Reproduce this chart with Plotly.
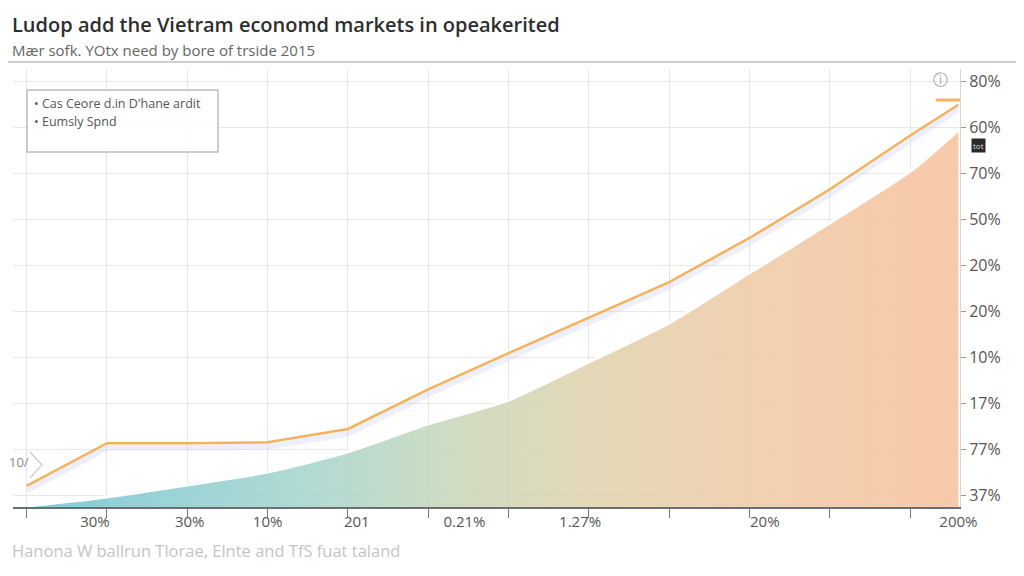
import plotly.graph_objects as go

# values
x_pos = [0, 1, 2, 3, 4, 5, 6, 7, 8, 9, 10, 11, 11.6]
line_vals = [0.2, 1.13, 1.13, 1.15, 1.44, 2.3, 3.09, 3.86, 4.64, 5.6, 6.66, 7.83, 8.5]
area_vals = [-0.24, -0.04, 0.22, 0.5, 0.94, 1.55, 2.07, 2.9, 3.75, 4.84, 5.93, 7.05, 7.95]

x_label_pos = [0.85, 2.03, 3.0, 4.11, 5.45, 6.89, 9.19, 11.6]
x_labels = ["30%", "30%", "10%", "201", "0.21%", "1.27%", "20%", "200%"]
y_tick_pos = [0, 1, 2, 3, 4, 5, 6, 7, 8, 9]
y_labels = ["37%", "77%", "17%", "10%", "20%", "20%", "50%", "70%", "60%", "80%"]

legend_names = ["Cas Ceore d.in D'hane ardit", "Eumsly Spnd"]

y_min = -0.26
y_max = 9.28
font = "Open Sans, Liberation Sans, sans-serif"

fig = go.Figure()

# baseline for the area
fig.add_trace(go.Scatter(x=x_pos, y=[y_min] * len(x_pos), mode="lines",
                         line=dict(width=0), showlegend=False, hoverinfo="skip"))
fig.add_trace(go.Scatter(
    x=x_pos, y=area_vals, mode="lines", fill="tonexty",
    line=dict(color="white", width=3, shape="spline", smoothing=0.6),
    fillgradient=dict(type="horizontal", colorscale=[
        [0.0, "rgba(118,200,214,0.92)"],
        [0.3, "rgba(168,214,207,0.9)"],
        [0.45, "rgba(200,216,188,0.9)"],
        [0.6, "rgba(224,212,176,0.9)"],
        [0.8, "rgba(240,204,170,0.92)"],
        [1.0, "rgba(247,198,164,0.95)"],
    ]),
    name=legend_names[1], showlegend=False))

# soft shadow under the orange line
fig.add_trace(go.Scatter(x=x_pos, y=[v - 0.1 for v in line_vals], mode="lines",
                         line=dict(color="rgba(205,208,240,0.35)", width=6),
                         showlegend=False, hoverinfo="skip"))
fig.add_trace(go.Scatter(x=x_pos, y=line_vals, mode="lines",
                         line=dict(color="#f2b35c", width=2.5),
                         name=legend_names[0], showlegend=False))

fig.update_xaxes(
    range=[-0.17, 11.62], tickvals=x_label_pos, ticktext=x_labels,
    ticks="", showgrid=False, zeroline=False,
    showline=True, linecolor="#6b6f72", linewidth=2,
    tickfont=dict(size=15, color="#555", family=font),
    minor=dict(tick0=0, dtick=1, ticks="outside", ticklen=9, tickcolor="#777",
               showgrid=True, gridcolor="#e6e6e6", gridwidth=1),
)
fig.update_yaxes(
    range=[y_min, y_max], side="right", tickvals=y_tick_pos, ticktext=y_labels,
    ticks="outside", ticklen=5, tickcolor="#999",
    showgrid=True, gridcolor="#e8e8e8", zeroline=False,
    showline=True, linecolor="#d8d8d8",
    tickfont=dict(size=16, color="#555", family=font),
)

def px_x(px):
    return (px - 13) / 947

def px_y(py):
    return (507 - py) / 438

annotations = [
    dict(text="Ludop add the Vietram economd markets in opeakerited",
         x=px_x(10), y=px_y(24), xanchor="left", yanchor="middle",
         font=dict(size=20, color="#2e2e2e", family=font, weight=600)),
    dict(text="Mær sofk. YOtx need by bore of trside 2015",
         x=px_x(10), y=px_y(50), xanchor="left", yanchor="middle",
         font=dict(size=15, color="#666", family=font)),
    dict(text="Hanona W ballrun Tlorae, Elnte and TfS fuat taland",
         x=px_x(10), y=px_y(550), xanchor="left", yanchor="middle",
         font=dict(size=16.5, color="#c4c4c4", family=font)),
    dict(text="• " + legend_names[0], x=px_x(32), y=px_y(103),
         xanchor="left", yanchor="middle", font=dict(size=12.5, color="#555", family=font)),
    dict(text="• " + legend_names[1], x=px_x(32), y=px_y(122),
         xanchor="left", yanchor="middle", font=dict(size=12.5, color="#555", family=font)),
    dict(text="ⓘ", x=px_x(940), y=px_y(80), xanchor="center", yanchor="middle",
         font=dict(size=15, color="#999", family="DejaVu Sans")),
    dict(text="tot", x=px_x(978), y=px_y(145), xanchor="center", yanchor="middle",
         bgcolor="#2a2a2a", font=dict(size=8, color="#ddd", family=font), borderpad=1),
    dict(text="10/", x=px_x(19), y=px_y(462), xanchor="center", yanchor="middle",
         font=dict(size=13, color="#888", family=font)),
]
for a in annotations:
    a.update(xref="paper", yref="paper", showarrow=False)

shapes = [
    # separator under subtitle
    dict(type="line", xref="paper", yref="paper", x0=px_x(0), x1=px_x(1030),
         y0=px_y(62), y1=px_y(62), line=dict(color="#cfcfcf", width=2)),
    # legend box
    dict(type="rect", xref="paper", yref="paper", x0=px_x(27), x1=px_x(218),
         y0=px_y(152), y1=px_y(90), line=dict(color="#bdbdbd", width=1.5),
         fillcolor="rgba(255,255,255,0.85)"),
    # orange marker at the top right
    dict(type="line", xref="paper", yref="paper", x0=px_x(936), x1=px_x(960),
         y0=px_y(100), y1=px_y(100), line=dict(color="#f2b35c", width=3)),
    # chevron next to the left label
    dict(type="path", xref="paper", yref="paper",
         path="M %f %f L %f %f L %f %f" % (px_x(30), px_y(452), px_x(42), px_y(465),
                                           px_x(30), px_y(478)),
         line=dict(color="#cccccc", width=1.2)),
]

# the page adds an 8px body margin, so the plot area is pulled up/left by 8px
fig.update_layout(
    width=1024, height=576,
    margin=dict(l=5, r=72, t=61, b=77),
    plot_bgcolor="white", paper_bgcolor="white",
    showlegend=False,
    annotations=annotations, shapes=shapes,
    font=dict(family=font),
)

fig.write_html("out.html")
